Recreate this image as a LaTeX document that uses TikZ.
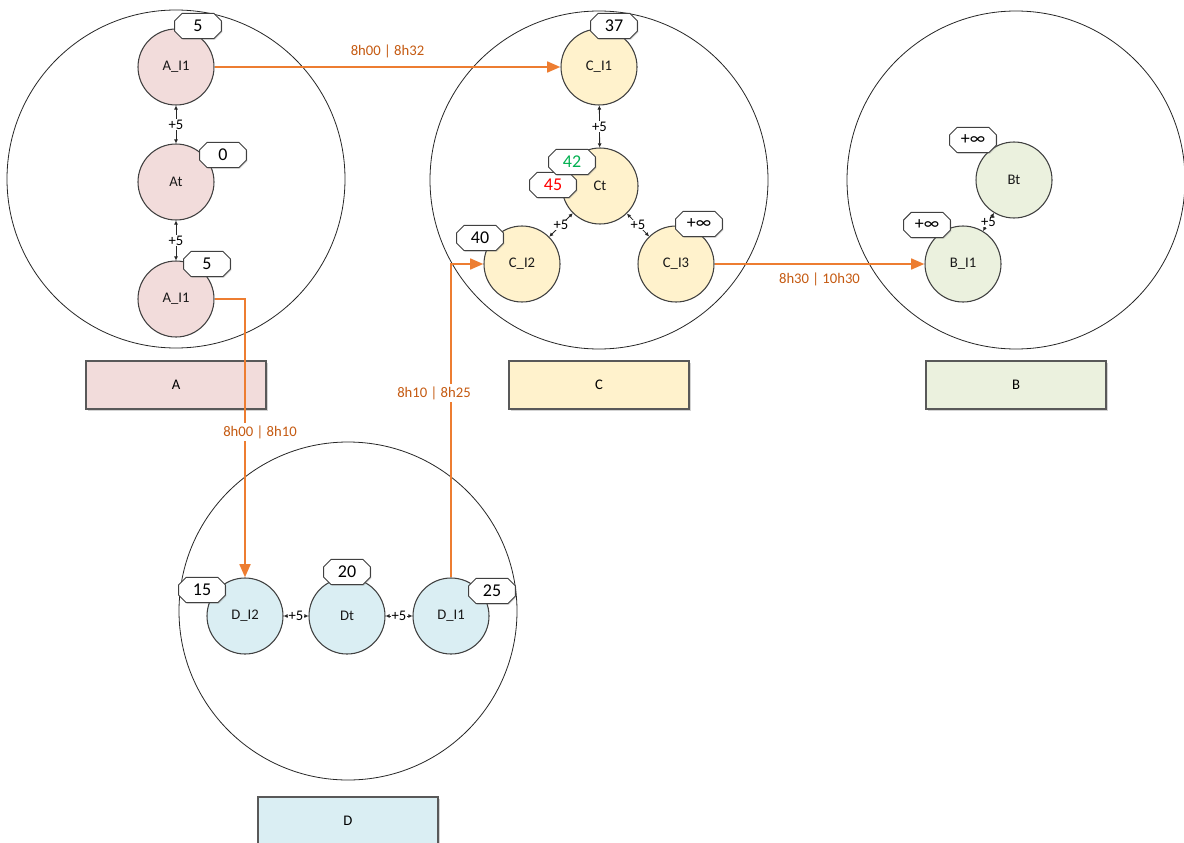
\documentclass[tikz,border=0pt]{standalone}
\usepackage{fontspec}
\setmainfont{Carlito}
\usetikzlibrary{shapes.misc,arrows.meta,shadows}
\definecolor{apink}{HTML}{F2DCDB}
\definecolor{cyel}{HTML}{FFF2CC}
\definecolor{bgrn}{HTML}{EBF1DE}
\definecolor{dblu}{HTML}{DAEEF3}
\definecolor{orng}{HTML}{ED7D31}
\definecolor{olabc}{HTML}{C55A11}
\definecolor{grn}{HTML}{00B050}
\begin{document}
\begin{tikzpicture}[x=0.75pt,y=-0.75pt,
  bigc/.style={circle,draw=black!85,line width=0.6pt,minimum size=253.5pt,inner sep=0pt},
  sc/.style={circle,draw=black!75,line width=0.8pt,minimum size=57pt,inner sep=0pt,font=\fontsize{11}{13}\selectfont,text=black!90},
  tag/.style={chamfered rectangle,chamfered rectangle xsep=2.5pt,draw=black!75,line width=0.7pt,fill=white,
    minimum width=35pt,minimum height=19pt,inner sep=1pt,font=\fontsize{13.5}{15}\selectfont,
    drop shadow={shadow xshift=0.8pt,shadow yshift=-0.8pt,opacity=0.35}},
  bx/.style={rectangle,draw=black!65,line width=0.8pt,minimum width=135pt,minimum height=36pt,
    font=\fontsize{11}{13}\selectfont,drop shadow={shadow xshift=1.2pt,shadow yshift=-1.2pt,opacity=0.35}},
  oarr/.style={draw=orng,line width=2pt,-{Triangle[length=10pt,width=8pt]}},
  olab/.style={font=\fontsize{11}{13}\selectfont,text=olabc,fill=white,inner sep=1.5pt},
  pc/.style={draw=black!85,line width=0.6pt,{Latex[length=3pt,width=3pt]}-{Latex[length=3pt,width=3pt]}},
  pl/.style={font=\fontsize{11}{12}\selectfont,fill=white,inner sep=0.3pt}
]
\useasboundingbox (0,0) rectangle (1184,842);

% big circles
\node[bigc] (Abig) at (176,179) {};
\node[bigc] (Cbig) at (599,180) {};
\node[bigc] (Bbig) at (1016,180) {};
\node[bigc] (Dbig) at (348,611) {};

% group boxes
\node[bx,fill=apink] (Abox) at (176,385) {A};
\node[bx,fill=cyel] (Cbox) at (599,385) {C};
\node[bx,fill=bgrn] (Bbox) at (1016,385) {B};
\node[bx,fill=dblu] (Dbox) at (348,821) {D};

% small circles
\node[sc,fill=apink] (A1) at (176,67) {A\_I1};
\node[sc,fill=apink] (At) at (176,182) {At};
\node[sc,fill=apink] (A2) at (176,299) {A\_I1};

\node[sc,fill=cyel] (C1) at (599,67) {C\_I1};
\node[sc,fill=cyel] (Ct) at (600,186) {Ct};
\node[sc,fill=cyel] (C2) at (522,264) {C\_I2};
\node[sc,fill=cyel] (C3) at (676,264) {C\_I3};

\node[sc,fill=bgrn] (Bt) at (1014,180) {Bt};
\node[sc,fill=bgrn] (B1) at (963,264) {B\_I1};

\node[sc,fill=dblu] (D2) at (245,616) {D\_I2};
\node[sc,fill=dblu] (Dt) at (347,616) {Dt};
\node[sc,fill=dblu] (D1) at (451,616) {D\_I1};

% +5 connectors
\draw[pc] (A1) -- (At) node[midway,pl] {+5};
\draw[pc] (At) -- (A2) node[midway,pl] {+5};
\draw[pc] (C1) -- (Ct) node[midway,pl] {+5};
\draw[pc] (Ct) -- (C2) node[midway,pl] {+5};
\draw[pc] (Ct) -- (C3) node[midway,pl] {+5};
\draw[pc] (Bt) -- (B1) node[midway,pl] {+5};
\draw[pc] (D2) -- (Dt) node[midway,pl] {+5};
\draw[pc] (Dt) -- (D1) node[midway,pl] {+5};

% tags
\node[tag] (tA1) at (198,26) {5};
\node[tag] (tAt) at (223,155) {0};
\node[tag] (tA2) at (207,264) {5};
\node[tag] (tC1) at (614,26) {37};
\node[tag] (tCt2) at (553,185) {\textcolor{red}{45}};
\node[tag] (tCt1) at (572,162) {\textcolor{grn}{42}};
\node[tag] (tC2) at (480,238) {40};
\node[tag] (tC3) at (699,224) {+∞};
\node[tag] (tBt) at (973,140) {+∞};
\node[tag] (tB1) at (927,225) {+∞};
\node[tag] (tD2) at (202,590) {15};
\node[tag] (tDt) at (347,572) {20};
\node[tag] (tD1) at (492,591) {25};

% orange routes
\draw[oarr] (A1.east) -- (C1.west) node[midway,above=4pt,olab] {8h00 | 8h32};
\draw[oarr] (A2.east) -| (D2.north);
\node[olab] (l2) at (260,432) {8h00 | 8h10};
\draw[oarr] (D1.north) |- (C2.west);
\node[olab] (l3) at (434,393) {8h10 | 8h25};
\draw[oarr] (C3.east) -- (B1.west) node[midway,below=4pt,olab] {8h30 | 10h30};
\end{tikzpicture}
\end{document}
